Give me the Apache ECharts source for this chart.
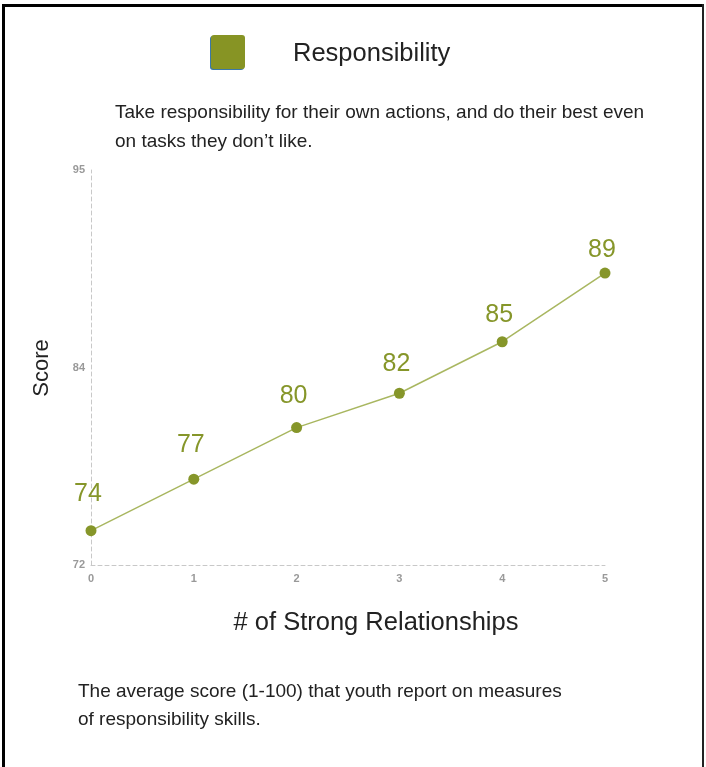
<!DOCTYPE html>
<html>
<head>
<meta charset="utf-8">
<script src="https://cdn.jsdelivr.net/npm/echarts@6/dist/echarts.min.js"></script>
<style>
html,body{margin:0;padding:0;background:#fff;}
#chart{width:706px;height:767px;}
</style>
</head>
<body>
<div id="chart"></div>
<script>
var categories = ['0', '1', '2', '3', '4', '5'];
var scores = [74, 77, 80, 82, 85, 89];
var yTickLabels = ['72', '84', '95'];
var seriesName = 'Responsibility';
var subtitleLines = ['Take responsibility for their own actions, and do their best even', 'on tasks they don\u2019t like.'];
var footerLines = ['The average score (1-100) that youth report on measures', 'of responsibility skills.'];

var olive = '#86962a';
var font = '"Liberation Sans", Arial, sans-serif';

var chart = echarts.init(document.getElementById('chart'), null, {renderer: 'canvas'});

var dataItems = scores.map(function (v) {
  var gap = 37 - (v - scores[0]) * 0.95;
  return {value: v, label: {offset: [-3, -gap]}};
});

var yMin = 72, yMax = 95;

chart.setOption({
  animation: false,
  backgroundColor: '#fff',
  grid: {left: 91, right: 101, top: 170, bottom: 202, containLabel: false},
  xAxis: {
    type: 'category',
    data: categories,
    boundaryGap: false,
    axisLine: {show: true, lineStyle: {color: '#c8c8c8', type: [4, 3], width: 1}},
    axisTick: {show: false},
    splitLine: {show: false},
    axisLabel: {color: '#999999', fontSize: 11, fontWeight: 'bold', fontFamily: font, margin: 8}
  },
  yAxis: {
    type: 'value',
    min: yMin,
    max: yMax,
    interval: (yMax - yMin) / 2,
    axisLine: {show: true, lineStyle: {color: '#c8c8c8', type: [4, 3], width: 1}},
    axisTick: {show: false},
    splitLine: {show: false},
    axisLabel: {
      color: '#999999', fontSize: 11, fontWeight: 'bold', fontFamily: font, margin: 6,
      formatter: function (val) {
        var idx = Math.round((val - yMin) / ((yMax - yMin) / 2));
        return yTickLabels[idx] || '';
      }
    }
  },
  series: [{
    name: seriesName,
    type: 'line',
    data: dataItems,
    symbol: 'circle',
    symbolSize: 11,
    itemStyle: {color: olive},
    lineStyle: {color: '#a9b761', width: 1.5},
    label: {
      show: true,
      position: 'inside',
      color: olive,
      fontSize: 25,
      fontFamily: font
    },
    z: 3
  }],
  graphic: [
    {type: 'rect', shape: {x: 2, y: 4, width: 3, height: 763}, style: {fill: '#000'}},
    {type: 'rect', shape: {x: 2, y: 4, width: 702, height: 3}, style: {fill: '#000'}},
    {type: 'rect', shape: {x: 702, y: 4, width: 2, height: 763}, style: {fill: '#222'}},
    {type: 'rect', shape: {x: 211, y: 35, width: 34, height: 34, r: 3},
      style: {fill: '#879424', shadowColor: '#3b78a8', shadowOffsetX: -1, shadowOffsetY: 1, shadowBlur: 0}},
    {type: 'text', x: 293, y: 54, style: {text: seriesName, fill: '#222', font: '25.5px ' + font, textVerticalAlign: 'middle'}},
    {type: 'text', x: 115, y: 113, style: {text: subtitleLines[0], fill: '#222', font: '19px ' + font, textVerticalAlign: 'middle'}},
    {type: 'text', x: 115, y: 142, style: {text: subtitleLines[1], fill: '#222', font: '19px ' + font, textVerticalAlign: 'middle'}},
    {type: 'text', x: 42, y: 368, rotation: Math.PI / 2,
      style: {text: 'Score', fill: '#222', font: '22px ' + font, textAlign: 'center', textVerticalAlign: 'middle'}},
    {type: 'text', x: 376, y: 623, style: {text: '# of Strong Relationships', fill: '#222', font: '25.5px ' + font, textAlign: 'center', textVerticalAlign: 'middle'}},
    {type: 'text', x: 78, y: 692, style: {text: footerLines[0], fill: '#222', font: '19px ' + font, textVerticalAlign: 'middle'}},
    {type: 'text', x: 78, y: 720, style: {text: footerLines[1], fill: '#222', font: '19px ' + font, textVerticalAlign: 'middle'}}
  ]
});
</script>
</body>
</html>
